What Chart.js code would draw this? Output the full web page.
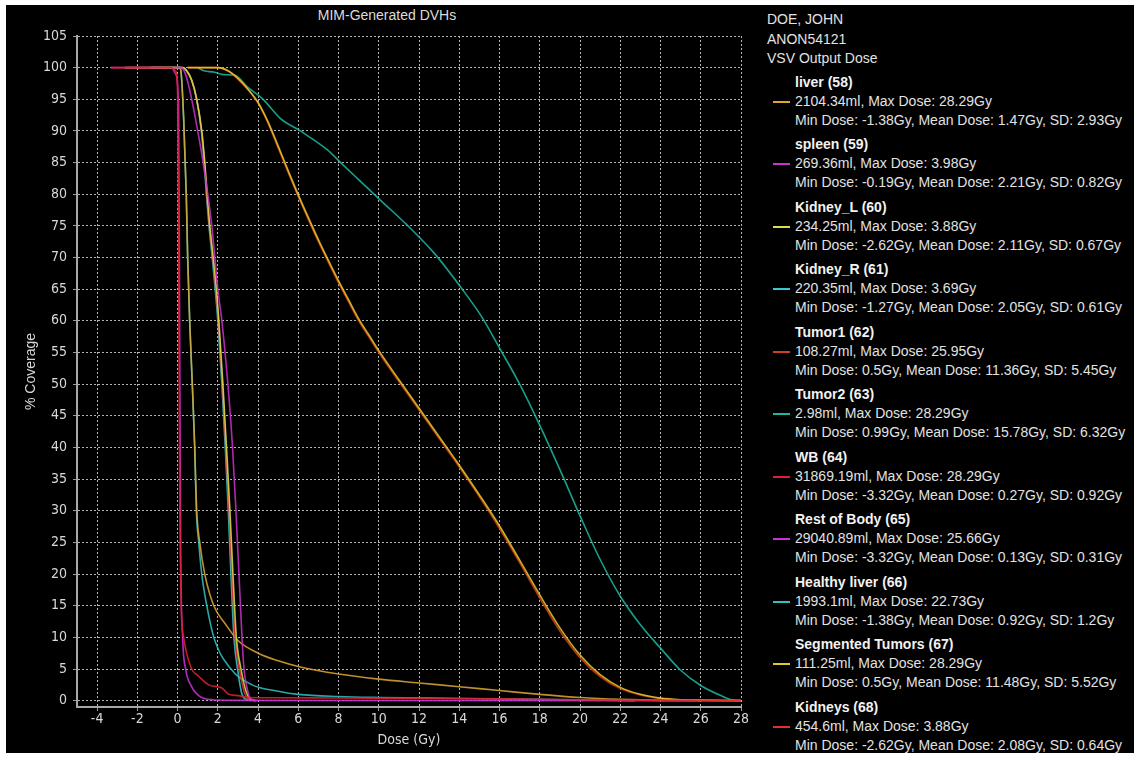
<!DOCTYPE html>
<html>
<head>
<meta charset="utf-8">
<script src="https://cdn.jsdelivr.net/npm/chart.js@4.4.1/dist/chart.umd.min.js"></script>
<style>
    html, body { margin: 0; padding: 0; background: #fff; width: 1134px; height: 757px; overflow: hidden; }
    #panel { position: absolute; left: 6px; top: 5px; width: 1128px; height: 748px; background: #000; }
    #wrap { position: absolute; left: 0; top: 0; width: 760px; height: 757px; }
    #title { position: absolute; left: 0; top: 6px; width: 774px; text-align: center;
             font: 14px 'Liberation Sans', Arial, sans-serif; color: #dcdcdc; line-height: 18px; }
    #header { position: absolute; left: 767px; top: 10px; font: 14px 'Liberation Sans', Arial, sans-serif;
              color: #e2e2e2; line-height: 19.5px; }
    .entry { position: absolute; left: 767px; font: 14px 'Liberation Sans', Arial, sans-serif;
             color: #e2e2e2; line-height: 19px; white-space: nowrap; }
    .entry .nm { padding-left: 28px; font-weight: bold; color: #f2f2f2; }
    .entry .ln { padding-left: 28px; position: relative; }
    .entry .sw { position: absolute; left: 6px; top: 9px; width: 17px; height: 2px; }
</style>
</head>
<body>
<div id="panel"></div>
<div id="title">MIM-Generated DVHs</div>
<div id="wrap"><canvas id="dvhChart" width="760" height="757"></canvas></div>
<div id="header">DOE, JOHN<br>ANON54121<br>VSV Output Dose</div>
<div id="legend"></div>
<script>
// tick values
const xTicks = [-4, -2, 0, 2, 4, 6, 8, 10, 12, 14, 16, 18, 20, 22, 24, 26, 28];
const yTicks = [0, 5, 10, 15, 20, 25, 30, 35, 40, 45, 50, 55, 60, 65, 70, 75, 80, 85, 90, 95, 100, 105];

// structure info (legend)
const structNames = ['liver (58)', 'spleen (59)', 'Kidney_L (60)', 'Kidney_R (61)', 'Tumor1 (62)', 'Tumor2 (63)',
    'WB (64)', 'Rest of Body (65)', 'Healthy liver (66)', 'Segmented Tumors (67)', 'Kidneys (68)'];
const volumes = ['2104.34', '269.36', '234.25', '220.35', '108.27', '2.98', '31869.19', '29040.89', '1993.1', '111.25', '454.6'];
const maxDoses = ['28.29', '3.98', '3.88', '3.69', '25.95', '28.29', '28.29', '25.66', '22.73', '28.29', '3.88'];
const minDoses = ['-1.38', '-0.19', '-2.62', '-1.27', '0.5', '0.99', '-3.32', '-3.32', '-1.38', '0.5', '-2.62'];
const meanDoses = ['1.47', '2.21', '2.11', '2.05', '11.36', '15.78', '0.27', '0.13', '0.92', '11.48', '2.08'];
const sdDoses = ['2.93', '0.82', '0.67', '0.61', '5.45', '6.32', '0.92', '0.31', '1.2', '5.52', '0.64'];
const lineColors = ['#dca630', '#c832c8', '#d8e048', '#38c8d0', '#d0401c', '#1cb8a0',
    '#e0202c', '#cc30d8', '#30c0c0', '#e8c828', '#e03030'];

// DVH curves: [dose Gy, % coverage]
const liverDvh = [[-1.38,100],[0.1,100],[0.18,99],[0.3,92],[0.43,80],[0.5,70],[0.6,60],[0.73,50],[0.85,40],[0.95,30],
    [1.1,25],[1.35,20],[1.8,15],[2.4,12],[3.0,9.5],[4.0,7.5],[5.0,6.3],[6.0,5.4],[8,4.2],[10,3.4],[12,2.8],[14,2.2],
    [16,1.6],[18,1.0],[20,0.5],[22,0.2],[24,0.05],[28.29,0]];
const spleenDvh = [[-0.19,100],[0.2,100],[0.35,99.3],[0.5,97.8],[0.7,95],[1.0,90],[1.27,85],[1.5,80],[1.7,75],[1.85,70],
    [2.0,65],[2.2,60],[2.5,50],[2.73,40],[2.9,30],[3.05,20],[3.2,10],[3.3,5],[3.45,2],[3.6,0.4],[3.98,0]];
const kidneyLDvh = [[-2.62,100],[0.25,100],[0.45,99.5],[0.7,98],[0.95,95],[1.2,90],[1.35,85],[1.47,80],[1.6,75],[1.77,70],
    [1.93,65],[2.05,60],[2.25,50],[2.43,40],[2.6,30],[2.75,20],[2.92,10],[3.15,5],[3.4,1.5],[3.6,0.3],[3.88,0]];
const kidneyRDvh = [[-1.27,100],[0.25,100],[0.45,99.5],[0.7,98],[0.95,95],[1.18,90],[1.32,85],[1.43,80],[1.56,75],[1.72,70],
    [1.87,65],[2.0,60],[2.2,50],[2.37,40],[2.52,30],[2.65,20],[2.8,10],[2.98,5],[3.2,1],[3.4,0.2],[3.69,0]];
const tumor1Dvh = [[0.5,100],[2.0,100],[2.5,99.5],[3.0,98.2],[3.5,96.5],[4.0,94.4],[4.5,91.2],[5.0,87.3],[5.5,83.4],
    [6.0,79.6],[6.5,76],[7.0,72.5],[7.5,69.2],[8.0,66],[8.5,63],[9.0,60],[9.5,57.5],[10,55],[11,50.4],[12,45.9],
    [13,41.4],[14,36.9],[15,32.2],[16,27.2],[17,21.8],[18,16.2],[19,11],[20,6.8],[21,3.8],[22,1.9],[23,0.9],[24,0.35],
    [25,0.1],[25.95,0]];
const tumor2Dvh = [[0.99,100],[1.3,99.5],[1.8,99.3],[2.3,98.9],[2.85,98.8],[3.45,97],[4.25,95],[5.1,92],[6.1,90],[7.45,87],
    [8.1,85],[9.1,82],[10.1,79],[11.45,75],[12.75,70.7],[14.1,65.2],[15.1,60.7],[16,55.7],[17,50],[18,43.5],[19,36.5],
    [20,29.2],[21,22.3],[22,16.5],[23,12],[24,8.3],[25,4.8],[26,2.4],[27,0.8],[27.6,0.1],[28.29,0]];
const wbDvh = [[-3.32,100],[-0.3,100],[-0.1,99.5],[0.0,96],[0.05,70],[0.1,35],[0.18,15],[0.3,10],[0.7,5],[1.0,4],
    [1.55,2.5],[2.2,2],[2.55,1],[3.0,0.8],[3.55,0.5],[5,0.45],[8,0.42],[12,0.38],[16,0.3],[20,0.15],[24,0.05],[28.29,0]];
const restBodyDvh = [[-3.32,100],[-0.3,100],[-0.1,99],[0.05,94],[0.1,60],[0.15,25],[0.25,10],[0.4,5],[0.65,2.5],
    [1.2,0.5],[2.0,0.1],[3,0.05],[8,0.03],[25.66,0]];
const healthyLiverDvh = [[-1.38,100],[0.1,100],[0.18,99],[0.3,92],[0.43,80],[0.5,70],[0.6,60],[0.73,50],[0.85,40],[0.93,30],
    [1.05,25],[1.2,20],[1.45,15],[1.8,10],[2.65,5],[3.7,2.5],[5.0,1.5],[6,1.0],[8,0.65],[10,0.5],[14,0.35],[18,0.2],[22.73,0]];
const segTumorsDvh = [[0.5,100],[2.0,100],[2.5,99.5],[3.0,98.3],[3.5,96.6],[4.0,94.5],[4.5,91.4],[5.0,87.6],[5.5,83.7],
    [6.0,79.9],[6.5,76.3],[7.0,72.8],[7.5,69.5],[8.0,66.3],[8.5,63.3],[9.0,60.3],[9.5,57.8],[10,55.3],[11,50.7],[12,46.2],
    [13,41.7],[14,37.2],[15,32.5],[16,27.6],[17,22.2],[18,16.7],[19,11.5],[20,7.2],[21,4.1],[22,2.1],[23,1.0],[24,0.4],
    [25,0.15],[26,0.08],[28.29,0]];
const kidneysDvh = [[-2.62,100],[0.25,100],[0.45,99.5],[0.7,98],[0.95,95],[1.19,90],[1.34,85],[1.45,80],[1.58,75],[1.75,70],
    [1.9,65],[2.03,60],[2.23,50],[2.4,40],[2.56,30],[2.7,20],[2.86,10],[3.07,5],[3.33,1.2],[3.5,0.3],[3.88,0]];

const allCurves = [liverDvh, spleenDvh, kidneyLDvh, kidneyRDvh, tumor1Dvh, tumor2Dvh,
    wbDvh, restBodyDvh, healthyLiverDvh, segTumorsDvh, kidneysDvh];
// drawing order: lower = on top
const drawOrder = [6, 3, 4, 5, 8, 10, 1, 2, 9, 7, 4];

const tickFont = { family: "'DejaVu Sans Condensed', 'Liberation Sans Narrow', 'DejaVu Sans', sans-serif", size: 14 };

// --- legend ---
const legendDiv = document.getElementById('legend');
let legendHtml = '';
structNames.forEach((name, i) => {
    const top = 72.5 + i * 62.5;
    legendHtml += `
        <div class="entry" style="top:${top}px">
            <div class="nm">${name}</div>
            <div class="ln"><span class="sw" style="background:${lineColors[i]}"></span>${volumes[i]}ml, Max Dose: ${maxDoses[i]}Gy</div>
            <div class="ln">Min Dose: ${minDoses[i]}Gy, Mean Dose: ${meanDoses[i]}Gy, SD: ${sdDoses[i]}Gy</div>
        </div>`;
});
legendDiv.innerHTML = legendHtml;

// --- chart ---
const datasets = allCurves.map((curve, i) => ({
    label: structNames[i],
    data: curve,
    borderColor: lineColors[i] + 'dd',
    backgroundColor: lineColors[i],
    borderWidth: 1.6,
    pointRadius: 0,
    fill: false,
    cubicInterpolationMode: 'monotone',
    order: drawOrder[i]
}));

const ctx = document.getElementById('dvhChart').getContext('2d');
new Chart(ctx, {
    type: 'line',
    data: { datasets: datasets },
    options: {
        responsive: false,
        animation: false,
        layout: { padding: { left: 20, right: 19, top: 36, bottom: 4 } },
        plugins: { legend: { display: false }, tooltip: { enabled: false } },
        scales: {
            x: {
                type: 'linear', min: -5, max: 28,
                afterBuildTicks: s => { s.ticks = xTicks.map(v => ({ value: v })); },
                afterFit: s => { s.height = 46; },
                grid: { color: '#b4b4b4', lineWidth: 1, tickLength: 4, tickColor: '#9a9a9a' },
                border: { display: true, color: '#a8a8a8', width: 2, dash: [2, 2] },
                ticks: { color: '#d8d8d8', font: tickFont, padding: 0, maxRotation: 0, autoSkip: false },
                title: { display: true, text: 'Dose (Gy)', color: '#d8d8d8', font: tickFont, padding: { top: 0, bottom: 4 } }
            },
            y: {
                type: 'linear', min: -1, max: 105,
                afterBuildTicks: s => { s.ticks = yTicks.map(v => ({ value: v })); },
                afterFit: s => { s.width = 57; },
                grid: { color: '#b4b4b4', lineWidth: 1, tickLength: 4, tickColor: '#9a9a9a' },
                border: { display: true, color: '#a8a8a8', width: 2, dash: [2, 2] },
                ticks: { color: '#d8d8d8', font: tickFont, padding: 6, autoSkip: false },
                title: { display: true, text: '% Coverage', color: '#d8d8d8',
                         font: { family: "'Liberation Sans', Arial, sans-serif", size: 14 }, padding: { top: 3, bottom: 0 } }
            }
        }
    }
});
</script>
</body>
</html>
